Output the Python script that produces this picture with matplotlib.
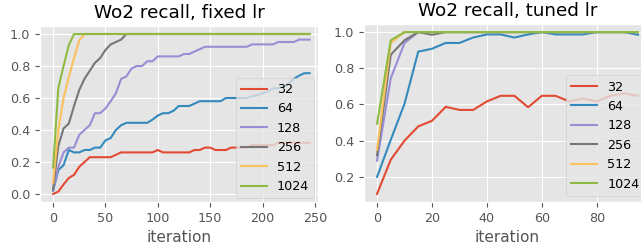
import numpy as np
import matplotlib
matplotlib.use("Agg")
import matplotlib.pyplot as plt

plt.style.use("ggplot")
plt.rcParams["font.size"] = 9.2
plt.rcParams["font.family"] = ["DejaVu Sans"]

batch_sizes = ["32", "64", "128", "256", "512", "1024"]

# fixed lr, evaluated every 5 iterations
iters_fixed = np.arange(0, 250, 5)
fixed_32 = [0.0, 0.015, 0.06, 0.1, 0.12, 0.17, 0.2, 0.23, 0.23, 0.23,
            0.23, 0.23, 0.245, 0.26, 0.26, 0.26, 0.26, 0.26, 0.26, 0.26,
            0.275, 0.26, 0.26, 0.26, 0.26, 0.26, 0.26, 0.275, 0.275, 0.29,
            0.29, 0.275, 0.275, 0.275, 0.29, 0.29, 0.29, 0.29, 0.305, 0.305,
            0.305, 0.305, 0.305, 0.32, 0.32, 0.32, 0.32, 0.32, 0.32, 0.32]
fixed_64 = [0.02, 0.15, 0.18, 0.275, 0.26, 0.26, 0.275, 0.275, 0.29, 0.29,
            0.335, 0.35, 0.4, 0.43, 0.445, 0.445, 0.445, 0.445, 0.445, 0.465,
            0.49, 0.505, 0.505, 0.52, 0.55, 0.55, 0.55, 0.565, 0.58, 0.58,
            0.58, 0.58, 0.58, 0.6, 0.6, 0.6, 0.6, 0.6, 0.61, 0.62,
            0.63, 0.64, 0.66, 0.66, 0.675, 0.69, 0.72, 0.74, 0.755, 0.755]
fixed_128 = [0.02, 0.17, 0.26, 0.29, 0.29, 0.37, 0.4, 0.43, 0.505, 0.505,
             0.535, 0.58, 0.63, 0.72, 0.735, 0.785, 0.8, 0.8, 0.83, 0.83,
             0.86, 0.86, 0.86, 0.86, 0.86, 0.875, 0.875, 0.89, 0.905, 0.92,
             0.92, 0.92, 0.92, 0.92, 0.92, 0.92, 0.92, 0.92, 0.935, 0.935,
             0.935, 0.935, 0.935, 0.95, 0.95, 0.95, 0.95, 0.965, 0.965, 0.965]
fixed_256 = [0.03, 0.3, 0.41, 0.44, 0.55, 0.65, 0.72, 0.77, 0.82, 0.85,
             0.9, 0.935, 0.95, 0.965] + [1.0] * 36
fixed_512 = [0.07, 0.4, 0.6, 0.73, 0.85, 0.96] + [1.0] * 44
fixed_1024 = [0.165, 0.66, 0.8, 0.93] + [1.0] * 46

# tuned lr
iters_tuned = np.arange(0, 100, 5)
tuned_32 = [0.106, 0.295, 0.4, 0.479, 0.51, 0.587, 0.57, 0.57, 0.617, 0.648,
            0.648, 0.585, 0.648, 0.648, 0.617, 0.633, 0.617, 0.648, 0.662, 0.648]
tuned_64 = [0.2, 0.405, 0.604, 0.892, 0.908, 0.94, 0.94, 0.97, 0.987, 0.987,
            0.97, 0.987, 1.0, 0.987, 0.987, 0.987, 1.0, 1.0, 1.0, 0.985]
tuned_128 = [0.29, 0.745, 0.94] + [1.0] * 17
tuned_256 = [0.32, 0.875, 0.955, 1.0, 0.985] + [1.0] * 15
tuned_512 = [0.35, 0.94] + [1.0] * 18
tuned_1024 = [0.494, 0.955] + [1.0] * 18

fixed = [fixed_32, fixed_64, fixed_128, fixed_256, fixed_512, fixed_1024]
tuned = [tuned_32, tuned_64, tuned_128, tuned_256, tuned_512, tuned_1024]

W, H = 641, 245
fig = plt.figure(figsize=(W / 100, H / 100), dpi=100)
ax1 = fig.add_axes([40 / W, (H - 202) / H, 278 / W, 176 / H])
ax2 = fig.add_axes([364 / W, (H - 202) / H, 287 / W, 178 / H])

for vals, lab in zip(fixed, batch_sizes):
    ax1.plot(iters_fixed, vals, label=lab)
ax1.set_xlim(-12.5, 253)
ax1.set_title("Wo2 recall, fixed lr")
ax1.set_xlabel("iteration")
ax1.legend(loc="lower right", borderaxespad=0.3)

for vals, lab in zip(tuned, batch_sizes):
    ax2.plot(iters_tuned, vals, label=lab)
ax2.set_title("Wo2 recall, tuned lr")
ax2.set_xlabel("iteration")
ax2.legend(loc="lower right")

fig.savefig("out.png", dpi=100)
